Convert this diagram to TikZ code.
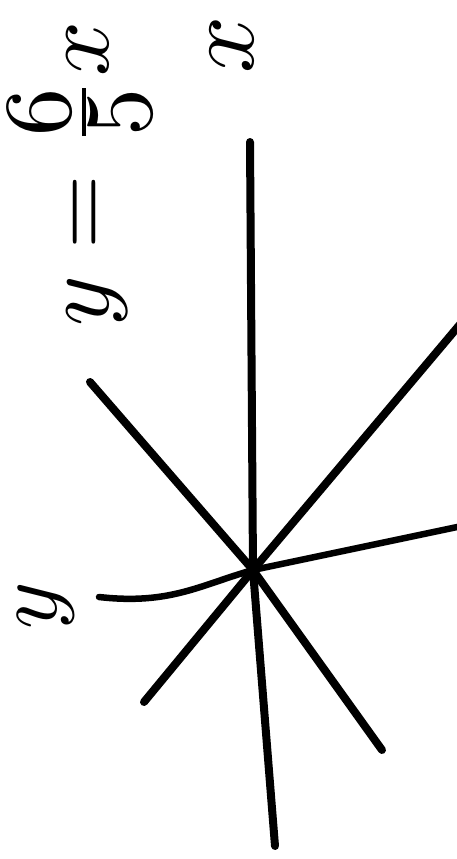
\documentclass[tikz,border=0pt]{standalone}
\begin{document}
\begin{tikzpicture}[x=1pt,y=-1pt,
  stroke/.style={line width=8pt,line cap=round,black},
  thin stroke/.style={line width=6.5pt,line cap=round,black},
  lbl/.style={rotate=90,inner sep=0pt}]
\useasboundingbox (0,0) rectangle (457,859);
% equation
\node[lbl,scale=9.6,anchor=base] (eq) at (108,174) {$y=\frac{\textstyle 6}{\textstyle 5}x$};
% axis labels
\node[lbl,scale=10] (xl) at (232,45) {$x$};
\node[lbl,scale=9] (yl) at (46,606) {$y$};
% line coordinates
\coordinate (o) at (253,570);
\coordinate (vt) at (250,142);
\coordinate (vb) at (275,846);
\coordinate (hl) at (99,597);
\coordinate (hr) at (462,526);
\coordinate (ar) at (462,322);
\coordinate (al) at (144,702);
\coordinate (bl) at (90,382);
\coordinate (br) at (382,750);
% lines
\draw[stroke] (vt) -- (o) -- (vb);
\draw[thin stroke] (hl) .. controls (170,605) and (200,585) .. (o) -- (hr);
\draw[stroke] (ar) -- (o) -- (al);
\draw[stroke] (bl) -- (o) -- (br);
\end{tikzpicture}
\end{document}
